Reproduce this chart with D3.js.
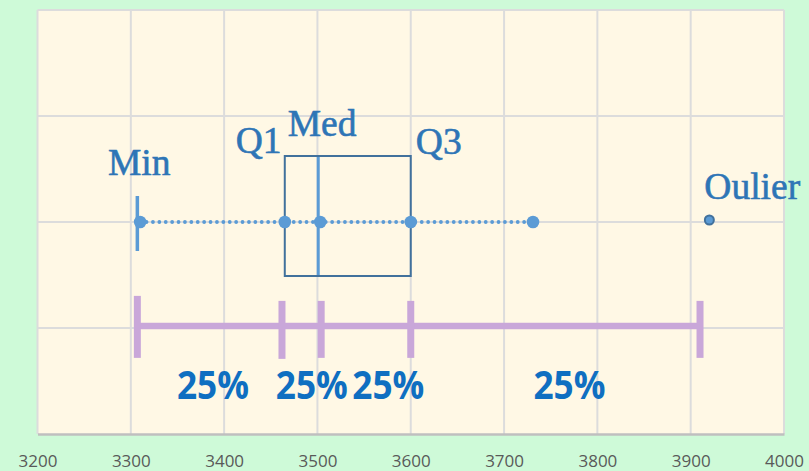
<!DOCTYPE html>
<html><head><meta charset="utf-8">
<script src="https://cdn.jsdelivr.net/npm/d3@7/dist/d3.min.js"></script>
<style>html,body{margin:0;padding:0;background:#cefad8;}svg{display:block;}</style>
</head><body>
<script>
// ---- data ----
const xTicks = [3200, 3300, 3400, 3500, 3600, 3700, 3800, 3900, 4000];
const yGrid = [0, 1, 2, 3, 4];
const boxRow = 2;
const barRow = 1.02;
const boxStats = {min: 3307, q1: 3465, med: 3503, q3: 3600};
const pointValues = [3310, 3465, 3503, 3600, 3731];
const outlierValues = [3920];
const barTicks = [3307, 3462, 3504, 3600, 3910];
const labelNames = ["Min", "Q1", "Med", "Q3", "Oulier"];
const labelX = [3309, 3437, 3505, 3630, 3966];
const labelY = [2.443, 2.651, 2.811, 2.642, 2.217];
const pctLabels = ["25%", "25%", "25%", "25%"];
const pctX = [3388, 3494, 3576, 3770];
const pctY = 0.33;

const W = 809, H = 471;
const m = {left: 37.5, right: 25, top: 10, bottom: 37};
const x = d3.scaleLinear().domain([3200, 4000]).range([m.left, W - m.right]);
const y = d3.scaleLinear().domain([0, 4]).range([H - m.bottom, m.top]);

const svg = d3.select("body").append("svg").attr("width", W).attr("height", H);
svg.append("rect").attr("width", W).attr("height", H).attr("fill", "#cefad8");
svg.append("rect").attr("x", x(3200)).attr("y", y(4)).attr("width", x(4000) - x(3200)).attr("height", y(0) - y(4)).attr("fill", "#fff8e5");

// grid
svg.append("g").selectAll("line").data(xTicks).join("line")
  .attr("x1", d => x(d)).attr("x2", d => x(d)).attr("y1", y(4)).attr("y2", y(0))
  .attr("stroke", "#dcdcdc").attr("stroke-width", 2);
svg.append("g").selectAll("line").data(yGrid.filter(d => d > 0)).join("line")
  .attr("x1", x(3200)).attr("x2", x(4000)).attr("y1", d => y(d)).attr("y2", d => y(d))
  .attr("stroke", "#dcdcdc").attr("stroke-width", 2);

// x axis
const xAxis = d3.axisBottom(x).tickValues(xTicks).tickSize(0).tickPadding(0).tickFormat(d3.format("d"));
const ax = svg.append("g").attr("transform", `translate(0,${y(0)})`).call(xAxis);
ax.select(".domain").attr("stroke", "#bfbfbf").attr("stroke-width", 2.5);
ax.selectAll("text").attr("font-family", "'Open Sans', sans-serif").attr("font-size", 17)
  .attr("fill", "#595959").attr("dy", null).attr("y", 33);

const cy = y(boxRow);
// dotted whisker line
svg.append("line").attr("x1", x(d3.min(pointValues))).attr("x2", x(d3.max(pointValues)))
  .attr("y1", cy).attr("y2", cy).attr("stroke", "#5b9bd5").attr("stroke-width", 3.8)
  .attr("stroke-linecap", "round").attr("stroke-dasharray", "0,6.4");
// box
svg.append("rect").attr("x", x(boxStats.q1)).attr("y", cy - 66)
  .attr("width", x(boxStats.q3) - x(boxStats.q1)).attr("height", 120)
  .attr("fill", "none").attr("stroke", "#41719c").attr("stroke-width", 2);
// median
svg.append("line").attr("x1", x(boxStats.med) - 2).attr("x2", x(boxStats.med) - 2)
  .attr("y1", cy - 65).attr("y2", cy + 53).attr("stroke", "#5b9bd5").attr("stroke-width", 3);
// min tick
svg.append("line").attr("x1", x(boxStats.min)).attr("x2", x(boxStats.min))
  .attr("y1", cy - 26).attr("y2", cy + 29).attr("stroke", "#5b9bd5").attr("stroke-width", 3.5);
// points
svg.append("g").selectAll("circle").data(pointValues).join("circle")
  .attr("cx", d => x(d)).attr("cy", cy).attr("r", 6.3).attr("fill", "#5b9bd5");
svg.append("g").selectAll("circle").data(outlierValues).join("circle")
  .attr("cx", d => x(d)).attr("cy", cy - 2).attr("r", 4.5).attr("fill", "#5b9bd5")
  .attr("stroke", "#41719c").attr("stroke-width", 2);

// purple bar
const by = y(barRow);
svg.append("line").attr("x1", x(barTicks[0])).attr("x2", x(barTicks[barTicks.length - 1]))
  .attr("y1", by).attr("y2", by).attr("stroke", "#c9a7d9").attr("stroke-width", 6.5);
svg.append("g").selectAll("line").data(barTicks).join("line")
  .attr("x1", d => x(d)).attr("x2", d => x(d))
  .attr("y1", (d, i) => i === 0 ? by - 30 : by - 25)
  .attr("y2", (d, i) => i === 1 ? by + 33 : by + 32)
  .attr("stroke", "#c9a7d9").attr("stroke-width", 7);

// labels
svg.append("g").selectAll("text").data(labelNames).join("text")
  .attr("x", (d, i) => x(labelX[i])).attr("y", (d, i) => y(labelY[i]))
  .attr("text-anchor", "middle").attr("font-family", "'Liberation Serif', 'Times New Roman', serif")
  .attr("font-size", 37.5).attr("fill", "#2e75b6")
  .attr("stroke", "#2e75b6").attr("stroke-width", 0.6).text(d => d);

svg.append("g").selectAll("text").data(pctLabels).join("text")
  .attr("x", (d, i) => x(pctX[i]) - 36).attr("y", y(pctY))
  .attr("font-family", "'Open Sans', sans-serif").attr("font-weight", "bold").attr("font-size", 40)
  .attr("textLength", 72).attr("lengthAdjust", "spacingAndGlyphs")
  .attr("fill", "#0f6fc1").text(d => d);
</script>
</body></html>
